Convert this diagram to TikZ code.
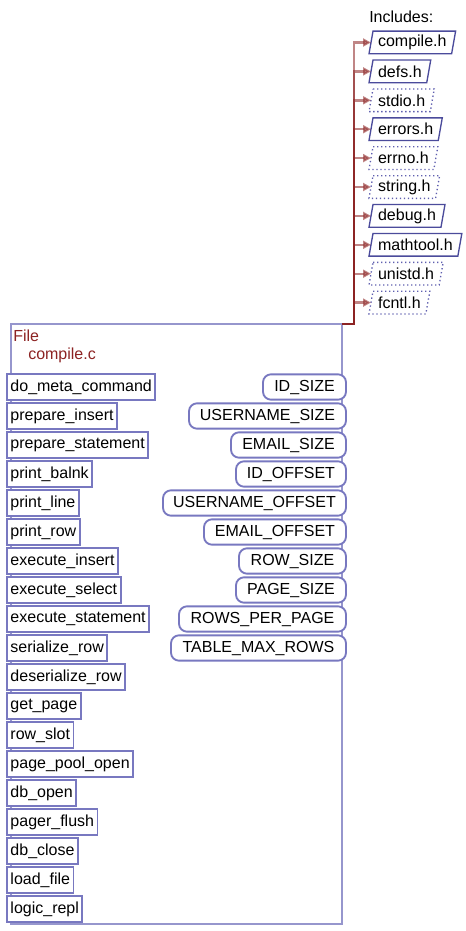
\documentclass[tikz,border=0pt]{standalone}
\usepackage{fontspec}
\setmainfont{Liberation Sans}
\usetikzlibrary{arrows.meta}
\definecolor{boxline}{RGB}{120,120,192}
\definecolor{fileline}{RGB}{150,150,205}
\definecolor{incline}{RGB}{75,75,155}
\definecolor{dotline}{RGB}{95,95,175}
\definecolor{darkred}{RGB}{140,35,35}
\begin{document}
\begin{tikzpicture}[x=0.75pt,y=-0.75pt,
  every node/.style={font=\fontsize{12pt}{14pt}\selectfont, text=black},
  filebox/.style={draw=fileline, line width=1.3pt, inner sep=0pt, outer sep=0pt, anchor=north west},
  funcbox/.style={draw=boxline, line width=1.4pt, fill=white, inner xsep=2.6pt, inner ysep=0pt, minimum height=19.5pt, anchor=west, outer sep=0pt},
  constbox/.style={draw=boxline, line width=1.4pt, fill=white, rounded corners=6pt, inner xsep=0pt, inner ysep=0pt, minimum height=19pt, anchor=east, outer sep=0pt},
  incnode/.style={inner xsep=5.3pt, inner ysep=0pt, minimum height=17pt, anchor=west, outer sep=0pt},
  incsolid/.style={draw=incline, line width=1pt},
  incdotted/.style={draw=dotline, line width=1pt, dotted},
  conn/.style={draw=darkred, line width=1.8pt, opacity=0.55, -{Triangle[length=6pt,width=6pt]}},
  titletext/.style={anchor=west, inner sep=0pt, text=darkred}
]
\useasboundingbox (0,0) rectangle (466,931);

% file box
\node[filebox, minimum width=248.25pt, minimum height=450pt] (F) at (11,324) {};
\node[titletext] (ft) at (13,336) {File};
\node[titletext] (fn) at (28,355) {compile.c};

% functions
\foreach \n [count=\i from 0] in {do\_meta\_command,prepare\_insert,prepare\_statement,print\_balnk,print\_line,print\_row,execute\_insert,execute\_select,execute\_statement,serialize\_row,deserialize\_row,get\_page,row\_slot,page\_pool\_open,db\_open,pager\_flush,db\_close,load\_file,logic\_repl}
  \node[funcbox] (f\i) at (7,{387+29*\i}) {\n};

% constants
\foreach \n/\l [count=\i from 0] in {ID\_SIZE/263,USERNAME\_SIZE/189,EMAIL\_SIZE/231,ID\_OFFSET/236,USERNAME\_OFFSET/163,EMAIL\_OFFSET/204,ROW\_SIZE/239,PAGE\_SIZE/236,ROWS\_PER\_PAGE/179,TABLE\_MAX\_ROWS/171}{
  \pgfmathsetmacro\w{(346-\l)*0.75}
  \node[constbox, minimum width=\w pt] (c\i) at (346,{387+29*\i}) {\n};
}

% includes
\node[anchor=west, inner sep=0pt] (inc) at (369,17) {Includes:};
\foreach \n/\s [count=\i from 0] in {compile.h/incsolid,defs.h/incsolid,stdio.h/incdotted,errors.h/incsolid,errno.h/incdotted,string.h/incdotted,debug.h/incsolid,mathtool.h/incsolid,unistd.h/incdotted,fcntl.h/incdotted}{
  \node[incnode] (I\i) at (371,{42.5+28.9*\i}) {\n};
  \draw[\s] ([xshift=1.5pt]I\i.north west) -- ([xshift=1.5pt]I\i.north east) -- ([xshift=-1.5pt]I\i.south east) -- ([xshift=-1.5pt]I\i.south west) -- cycle;
  \draw[conn] (F.north east) -- ++(12,0) |- (I\i.west);
}
\end{tikzpicture}
\end{document}
